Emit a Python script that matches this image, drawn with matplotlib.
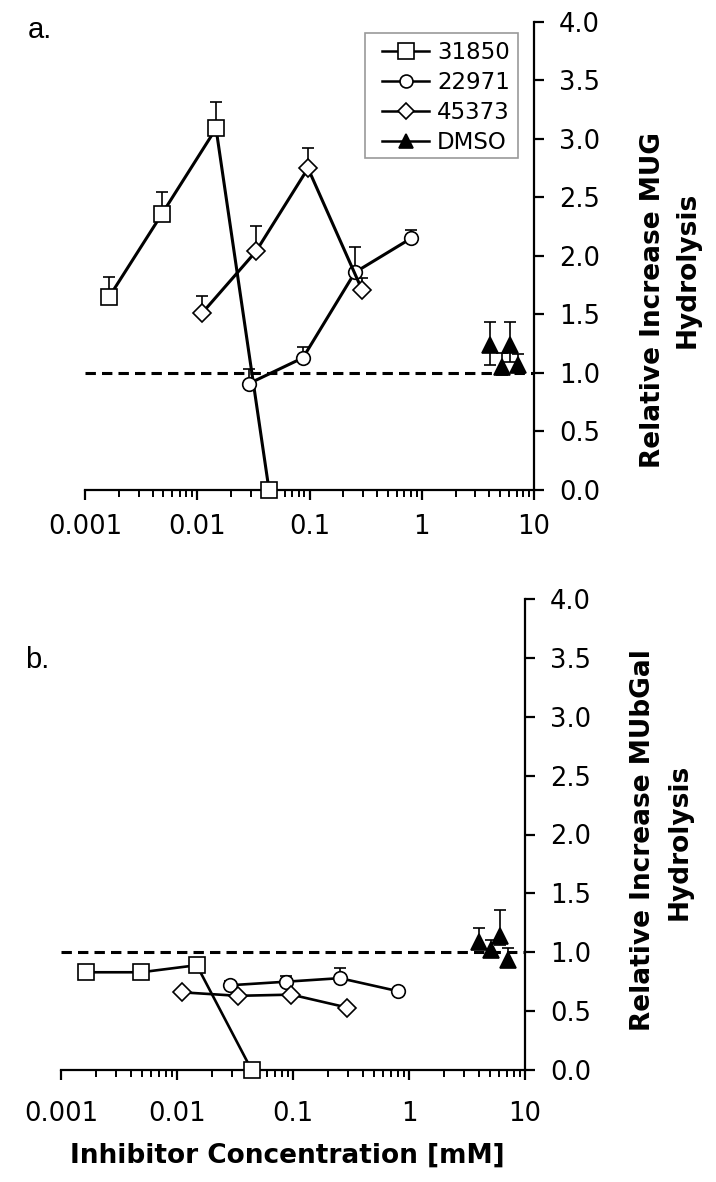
import matplotlib
matplotlib.use("Agg")
import matplotlib.pyplot as plt
from matplotlib.lines import Line2D
from matplotlib.patches import Rectangle

# ---------------- data ----------------
# Panel a (MUG)
a_x_31850 = [0.00164, 0.00485, 0.0147, 0.0436]
a_y_31850 = [1.65, 2.36, 3.09, 0.0]
a_e_31850 = [0.17, 0.19, 0.23, 0.0]

a_x_22971 = [0.0289, 0.0875, 0.254, 0.80]
a_y_22971 = [0.91, 1.13, 1.86, 2.15]
a_e_22971 = [0.12, 0.09, 0.22, 0.07]

a_x_45373 = [0.011, 0.0334, 0.097, 0.294]
a_y_45373 = [1.51, 2.04, 2.75, 1.71]
a_e_45373 = [0.15, 0.22, 0.17, 0.10]

a_x_dmso = [4.06, 5.19, 6.11, 7.2]
a_y_dmso = [1.24, 1.05, 1.24, 1.07]
a_eu_dmso = [0.20, 0.12, 0.20, 0.09]
a_el_dmso = [0.17, 0.07, 0.15, 0.05]

# Panel b (MUbGal)
b_x_31850 = [0.00164, 0.0049, 0.0148, 0.044]
b_y_31850 = [0.83, 0.83, 0.89, 0.0]
b_e_31850 = [0.02, 0.02, 0.03, 0.0]

b_x_22971 = [0.0289, 0.0875, 0.254, 0.80]
b_y_22971 = [0.72, 0.75, 0.78, 0.67]
b_e_22971 = [0.04, 0.05, 0.09, 0.0]

b_x_45373 = [0.011, 0.0334, 0.097, 0.294]
b_y_45373 = [0.66, 0.63, 0.64, 0.53]
b_e_45373 = [0.0, 0.0, 0.0, 0.0]

b_x_dmso = [4.04, 5.1, 6.08, 7.1]
b_y_dmso = [1.09, 1.02, 1.14, 0.93]
b_eu_dmso = [0.12, 0.08, 0.22, 0.11]
b_el_dmso = [0.06, 0.05, 0.08, 0.05]

series_labels = ["31850", "22971", "45373", "DMSO"]
x_ticks = [0.001, 0.01, 0.1, 1, 10]
x_tick_labels = ["0.001", "0.01", "0.1", "1", "10"]
y_ticks = [0.0, 0.5, 1.0, 1.5, 2.0, 2.5, 3.0, 3.5, 4.0]
y_tick_labels = ["0.0", "0.5", "1.0", "1.5", "2.0", "2.5", "3.0", "3.5", "4.0"]

# ---------------- figure ----------------
W, H = 716, 1182
plt.rcParams["font.family"] = ["DejaVu Sans"]
fig = plt.figure(figsize=(W / 100, H / 100), dpi=100)


def fx(px):
    return px / W


def fy(py):
    return 1 - py / H


ax_a = fig.add_axes([fx(85), fy(490), (534 - 85) / W, (490 - 22) / H])
ax_b = fig.add_axes([fx(61), fy(1070), (525 - 61) / W, (1070 - 599) / H])

styles = {
    "31850": dict(marker="s", ms=11.8, mfc="white"),
    "22971": dict(marker="o", ms=9.8, mfc="white"),
    "45373": dict(marker="D", ms=8.8, mfc="white"),
    "DMSO": dict(marker="^", ms=11.0, mfc="black"),
}


def draw_panel(ax, data, lw, label_pad):
    ax.set_xscale("log")
    ax.set_xlim(0.001, 10)
    ax.set_ylim(0, 4.0)
    ax.axhline(1.0, color="black", lw=2.2, dashes=(3.4, 2.0), zorder=1)
    for name, (xs, ys, el, eu, connect) in data.items():
        st = styles[name]
        ax.errorbar(xs, ys, yerr=[el, eu], fmt="none", ecolor="black",
                    elinewidth=1.2, capsize=4.0, capthick=1.2, zorder=2,
                    clip_on=False)
        ax.plot(xs, ys, color="black", lw=lw if connect else 0,
                linestyle="-" if connect else "none",
                marker=st["marker"], ms=st["ms"], mfc=st["mfc"],
                mec="black", mew=1.2, zorder=4, clip_on=False)
    for s in ["left", "top"]:
        ax.spines[s].set_visible(False)
    for s in ["right", "bottom"]:
        ax.spines[s].set_linewidth(1.6)
        ax.spines[s].set_zorder(3)
    ax.yaxis.tick_right()
    ax.yaxis.set_label_position("right")
    ax.set_yticks(y_ticks)
    ax.set_yticklabels(y_tick_labels)
    ax.set_xticks(x_ticks)
    ax.set_xticklabels(x_tick_labels)
    ax.tick_params(axis="y", which="major", direction="out", length=7.5,
                   width=1.6, labelsize=18.5, pad=10.5)
    ax.tick_params(axis="x", which="major", direction="out", length=7.5,
                   width=1.6, labelsize=18.5, pad=label_pad)
    ax.tick_params(axis="x", which="minor", direction="out", length=5.0,
                   width=1.4)
    ax.patch.set_visible(False)


draw_panel(ax_a, {
    "31850": (a_x_31850, a_y_31850, [0] * 4, a_e_31850, True),
    "22971": (a_x_22971, a_y_22971, [0] * 4, a_e_22971, True),
    "45373": (a_x_45373, a_y_45373, [0] * 4, a_e_45373, True),
    "DMSO": (a_x_dmso, a_y_dmso, a_el_dmso, a_eu_dmso, False),
}, lw=2.2, label_pad=10)

draw_panel(ax_b, {
    "31850": (b_x_31850, b_y_31850, [0] * 4, b_e_31850, True),
    "22971": (b_x_22971, b_y_22971, [0] * 4, b_e_22971, True),
    "45373": (b_x_45373, b_y_45373, [0] * 4, b_e_45373, True),
    "DMSO": (b_x_dmso, b_y_dmso, b_el_dmso, b_eu_dmso, False),
}, lw=1.9, label_pad=15)

# legend (panel a): frame drawn separately for exact padding
handles = []
for name in series_labels:
    st = styles[name]
    handles.append(Line2D([], [], color="black", lw=1.8, marker=st["marker"],
                          ms=st["ms"] * 0.95, mfc=st["mfc"], mec="black",
                          mew=1.2))
leg = fig.legend(handles, series_labels, loc="upper left",
                 bbox_to_anchor=(fx(374), fy(33)), bbox_transform=fig.transFigure,
                 frameon=False, fontsize=16.5, handlelength=2.05,
                 handletextpad=0.35, labelspacing=0.31, borderpad=0.35,
                 borderaxespad=0)
fig.add_artist(Rectangle((fx(365), fy(158)), (518 - 365) / W, (158 - 33) / H,
                         transform=fig.transFigure, fill=False,
                         edgecolor="#9a9a9a", lw=1.2))

# axis titles
lab_kw = dict(rotation=90, fontsize=19, fontweight="bold", ha="center",
              va="center")
fig.text(fx(653), fy(300), "Relative Increase MUG", **lab_kw)
fig.text(fx(688), fy(270), "Hydrolysis", **lab_kw)
fig.text(fx(643), fy(840), "Relative Increase MUbGal", **lab_kw)
fig.text(fx(680), fy(842), "Hydrolysis", **lab_kw)

fig.text(fx(287), fy(1163), "Inhibitor Concentration [mM]", fontsize=19,
         fontweight="bold", ha="center", va="baseline")

fig.text(fx(28), fy(38), "a.", fontsize=21, family=["Liberation Sans"],
         ha="left", va="baseline")
fig.text(fx(25), fy(668), "b.", fontsize=21, family=["Liberation Sans"],
         ha="left", va="baseline")

fig.savefig("out.png", dpi=100)
